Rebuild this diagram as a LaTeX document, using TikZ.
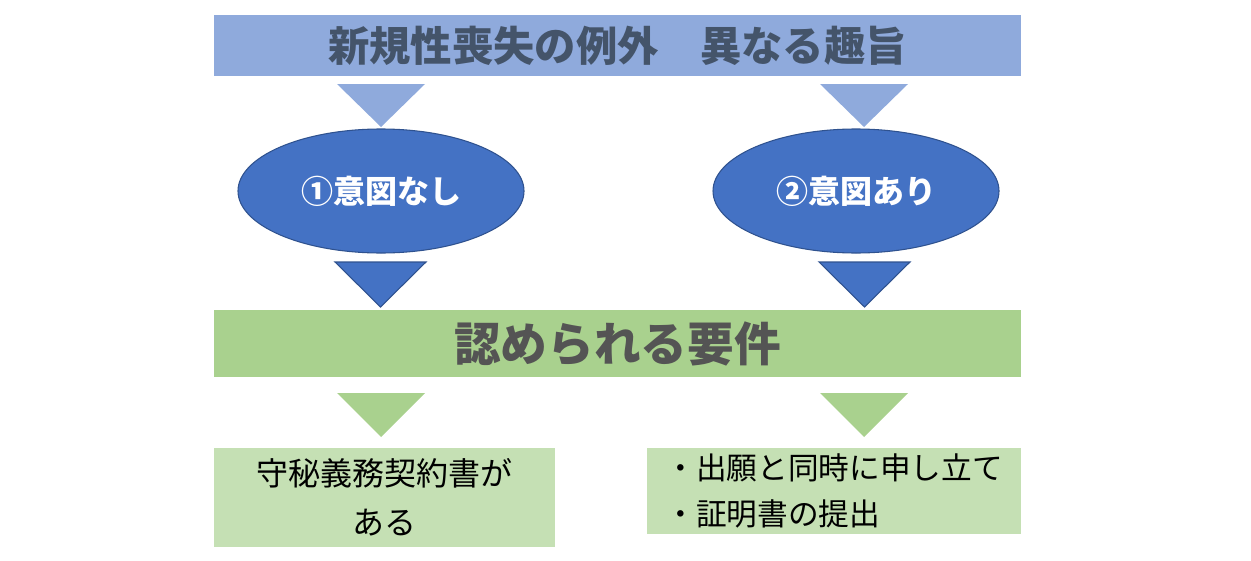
\documentclass[tikz,border=0pt]{standalone}
\usepackage{fontspec}
\setmainfont{Noto Sans CJK JP}
\usetikzlibrary{shapes.geometric}
\definecolor{lb}{HTML}{8FAADC}
\definecolor{db}{HTML}{4472C4}
\definecolor{dbb}{HTML}{2F528F}
\definecolor{gr}{HTML}{A9D18E}
\definecolor{lg}{HTML}{C5E0B4}
\definecolor{tt}{HTML}{44546A}
\begin{document}
\begin{tikzpicture}[x=0.75pt,y=-0.75pt,
  tri/.style={fill=#1},
  ell/.style={ellipse,fill=db,draw=dbb,line width=0.8pt,minimum width=286*0.75pt,minimum height=124*0.75pt,text=white,font=\fontsize{24}{28}\selectfont\bfseries}]
\useasboundingbox (0,0) rectangle (1251,560);
\fill[lb] (214,15) rectangle (1021,76);
\node (t) at (617.5,45.5) [text=tt,font=\fontsize{31}{36}\selectfont\bfseries] {新規性喪失の例外　異なる趣旨};
\fill[lb] (337,84) -- (425,84) -- (381,127) -- cycle;
\fill[lb] (820,84) -- (908,84) -- (864,127) -- cycle;
\node[ell] (e1) at (381,191) {①意図なし};
\node[ell] (e2) at (856,191) {②意図あり};
\filldraw[fill=db,draw=dbb,line width=0.8pt] (335,262) -- (426,262) -- (380.5,307) -- cycle;
\filldraw[fill=db,draw=dbb,line width=0.8pt] (819,262) -- (910,262) -- (864.5,307) -- cycle;
\fill[gr] (214,310) rectangle (1021,377);
\node (g) at (617.5,343.5) [text=black!67,font=\fontsize{35}{40}\selectfont\bfseries] {認められる要件};
\fill[gr] (337,393) -- (425,393) -- (381,437) -- cycle;
\fill[gr] (820,393) -- (908,393) -- (864,437) -- cycle;
\fill[lg] (214,448) rectangle (555,547);
\node (b1) at (384.5,497.5) [align=center,font=\fontsize{24}{37}\selectfont] {守秘義務契約書が\\ある};
\fill[lg] (647,448) rectangle (1021,534);
\node (b2) at (834,491) [align=left,font=\fontsize{23}{34}\selectfont] {・出願と同時に申し立て\\・証明書の提出};
\end{tikzpicture}
\end{document}
